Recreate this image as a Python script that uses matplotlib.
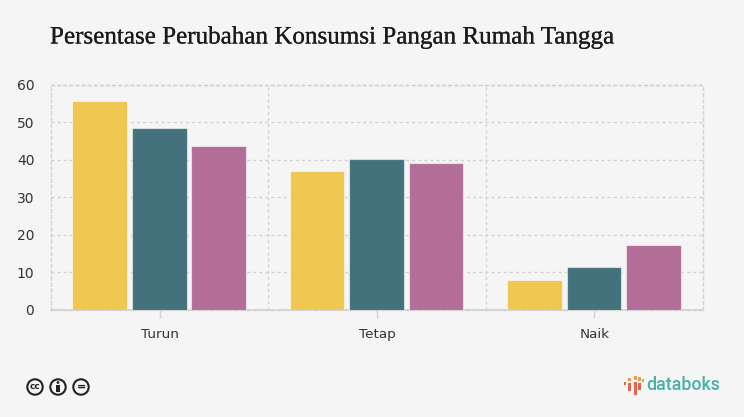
import matplotlib
matplotlib.use('Agg')
import matplotlib.pyplot as plt
from matplotlib.patches import Circle, Rectangle
import matplotlib.patheffects as pe
import numpy as np

categories = ['Turun', 'Tetap', 'Naik']
series_a = [55.7, 37.0, 7.9]
series_b = [48.6, 40.2, 11.4]
series_c = [43.8, 39.2, 17.2]
colors = ['#f0c750', '#43727d', '#b36e98']
y_ticks = [0, 10, 20, 30, 40, 50, 60]

W, H = 744, 417
bg = '#f5f5f5'
grid_c = '#d2d2d2'
dash = (0, (2.2, 2.2))

fig = plt.figure(figsize=(W / 100, H / 100), dpi=100, facecolor=bg)
ax = fig.add_axes([51 / W, 1 - 309.5 / H, 652 / W, 224.5 / H], facecolor=bg)

x = np.arange(len(categories))
pitch = 0.274
for i, (vals, c) in enumerate(zip([series_a, series_b, series_c], colors)):
    ax.bar(x + (i - 1) * pitch - 0.002, vals, width=0.252, color=c, edgecolor=(1, 1, 1, 0.55),
           linewidth=0.8, zorder=3)

ax.set_xlim(-0.5, 2.5)
ax.set_ylim(0, 60)
ax.set_yticks(y_ticks)
ax.set_xticks(x)
ax.set_xticklabels(categories)
ax.tick_params(axis='y', length=0, pad=12, labelsize=10, labelcolor='#333333')
ax.tick_params(axis='x', length=6, width=1, color=grid_c, pad=7, labelsize=9.7, labelcolor='#333333')

# dashed grid, both directions
ax.grid(axis='y', color=grid_c, linestyle=dash, linewidth=1, zorder=1, clip_on=False)
for pos in [0.5, 1.5]:
    ax.axvline(pos, color=grid_c, linestyle=dash, linewidth=1, zorder=1)
for s in ['top', 'left', 'right']:
    ax.spines[s].set_color(grid_c)
    ax.spines[s].set_linestyle(dash)
    ax.spines[s].set_linewidth(1)
ax.spines['bottom'].set_color(grid_c)
ax.spines['bottom'].set_linewidth(1.3)

title = fig.text(50 / W, 1 - 37.5 / H, 'Persentase Perubahan Konsumsi Pangan Rumah Tangga',
                 family='Liberation Serif', fontsize=18.06, color='#1a1a1a', va='center', ha='left')
title.set_path_effects([pe.withStroke(linewidth=0.15, foreground='#1a1a1a')])

# overlay in pixel coordinates for the footer
ov = fig.add_axes([0, 0, 1, 1], facecolor='none')
ov.set_xlim(0, W)
ov.set_ylim(H, 0)
ov.axis('off')

# cc icons
for cx, label in [(35, 'cc'), (58, ''), (81, '=')]:
    ov.add_patch(Circle((cx, 387), 7.7, fc='#f5f5f5', ec='#222222', lw=1.5))
    if label:
        ov.text(cx, 386.4, label, fontsize=6.5 if label == 'cc' else 8, weight='bold', color='#222222',
                ha='center', va='center')
ov.add_patch(Circle((58, 382.5), 1.4, fc='#222222', ec='none'))
ov.add_patch(Rectangle((56.2, 384.5), 3.6, 7, fc='#222222', ec='none'))

# databoks logo
for bx, top, bottom, c in [(625, 382, 385, '#e4634f'),
                           (629.7, 378, 381, '#ee9a4d'), (629.7, 383, 391, '#e4634f'),
                           (635.2, 376, 380, '#ee9a4d'), (635.2, 382, 395, '#e4634f'),
                           (639.2, 377, 381, '#ee9a4d'), (639.2, 383, 390, '#e4634f'),
                           (643, 379, 382, '#ee9a4d')]:
    ov.add_patch(Rectangle((bx - 1.3, top), 2.6, bottom - top, fc=c, ec='none'))
ov.text(646, 385.5, 'databoks', fontsize=12.8, color='#48afa9', weight='medium', ha='left', va='center',
        family='Roboto')

fig.savefig('out.png', dpi=100, facecolor=bg)
